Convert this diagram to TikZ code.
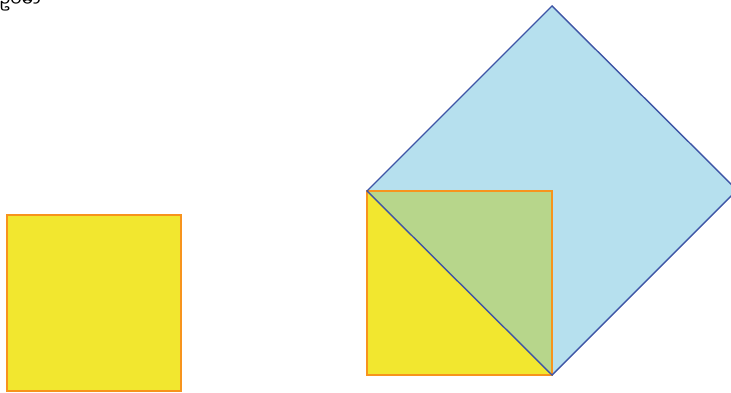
\documentclass[tikz,border=0pt]{standalone}
\usepackage{fontspec}
\newfontfamily\mmfont[Script=Myanmar]{Noto Sans Myanmar UI}
\definecolor{sqyellow}{HTML}{F2E72F}
\definecolor{sqorange}{HTML}{F7941D}
\definecolor{dmblue}{HTML}{B6E0EE}
\definecolor{dmedge}{HTML}{3E55A6}
\definecolor{ovgreen}{HTML}{B7D68B}
\begin{document}
\begin{tikzpicture}[x=0.025cm, y=-0.025cm]
    \useasboundingbox (0,0) rectangle (731,393);
    \clip (0,0) rectangle (731,393);

    \node[anchor=base west, inner sep=0pt, font=\mmfont\large] (caption) at (-1,7) {ဥပမာ};

    % small square
    \draw[fill=sqyellow, draw=sqorange, line width=0.9pt] (7,215) rectangle (181,391);

    % square and the square on its diagonal
    \coordinate (A) at (367,191);
    \coordinate (B) at (552,191);
    \coordinate (C) at (552,375);
    \coordinate (D) at (367,375);
    \coordinate (T) at (552,6);
    \coordinate (R) at (737,190);

    \fill[sqyellow] (A) -- (B) -- (C) -- (D) -- cycle;
    \fill[dmblue] (A) -- (T) -- (R) -- (C) -- cycle;
    \fill[ovgreen] (A) -- (B) -- (C) -- cycle;
    \draw[sqorange, line width=0.9pt] (A) -- (B) -- (C) -- (D) -- cycle;
    \draw[dmedge, line width=1pt] (A) -- (T) -- (R) -- (C) -- cycle;
\end{tikzpicture}
\end{document}
